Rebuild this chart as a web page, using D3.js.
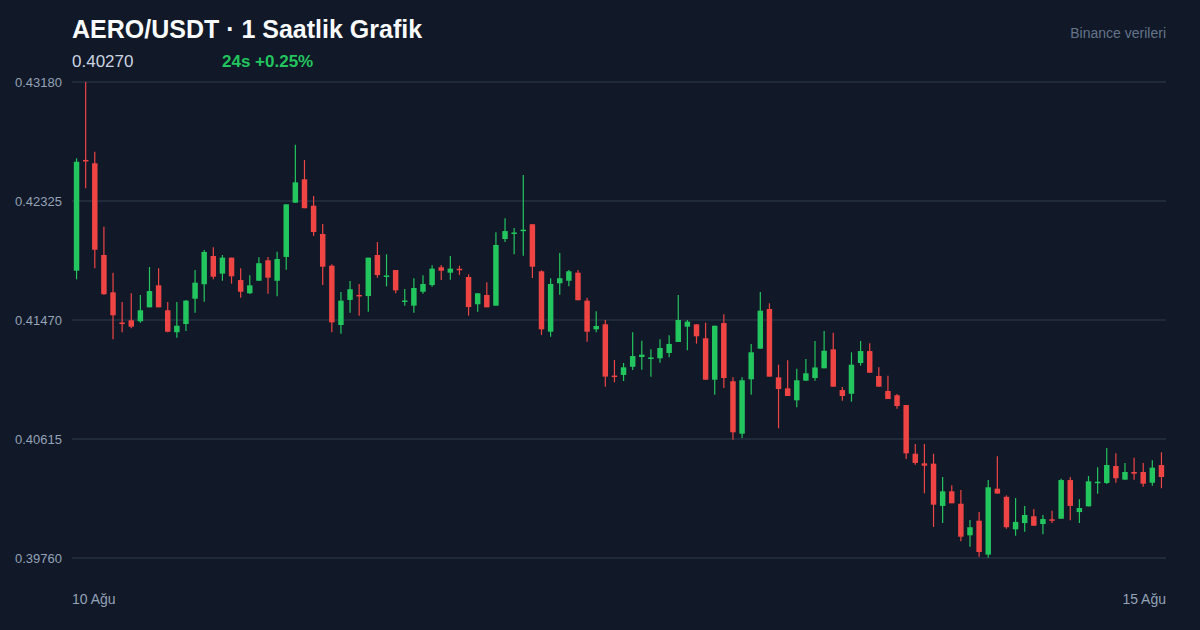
<!DOCTYPE html>
<html><head><meta charset="utf-8">
<script src="https://cdn.jsdelivr.net/npm/d3@7/dist/d3.min.js"></script>
<style>
html,body{margin:0;padding:0;background:#111827;}
svg{display:block;font-family:"Liberation Sans",Arial,Helvetica,sans-serif;}
</style></head>
<body>
<svg id="chart" width="1200" height="630"></svg>
<script>
const opens = [0.41824,0.42620,0.42596,0.41937,0.41669,0.41452,0.41468,0.41461,0.41561,0.41719,
0.41540,0.41382,0.41441,0.41623,0.41727,0.41930,0.41803,0.41918,0.41757,0.41662,
0.41752,0.41899,0.41752,0.41923,0.42313,0.42481,0.42291,0.42088,0.41860,0.41434,
0.41614,0.41650,0.41642,0.41937,0.41780,0.41829,0.41602,0.41573,0.41673,0.41721,
0.41849,0.41810,0.41838,0.41779,0.41583,0.41650,0.41573,0.42052,0.42092,0.42109,
0.42158,0.41820,0.41386,0.41734,0.41752,0.41810,0.41609,0.41403,0.41439,0.41071,
0.41075,0.41134,0.41204,0.41190,0.41195,0.41233,0.41312,0.41422,0.41439,0.41339,
0.41041,0.41448,0.41030,0.40653,0.41044,0.41264,0.41549,0.41058,0.40979,0.40893,
0.41034,0.41053,0.41123,0.41259,0.40967,0.40940,0.41161,0.41247,0.41068,0.40960,
0.40929,0.40859,0.40509,0.40440,0.40438,0.40134,0.40239,0.40150,0.39923,0.40028,
0.39784,0.40258,0.40200,0.39966,0.40011,0.40060,0.40004,0.40038,0.40042,0.40320,
0.40090,0.40131,0.40299,0.40299,0.40421,0.40323,0.40378,0.40378,0.40301,0.40428];
const highs = [0.42632,0.43180,0.42679,0.42140,0.41810,0.41599,0.41662,0.41650,0.41851,0.41841,
0.41599,0.41599,0.41614,0.41829,0.41973,0.41992,0.41937,0.41918,0.41841,0.41791,
0.41921,0.41923,0.41961,0.42301,0.42730,0.42620,0.42361,0.42160,0.41870,0.41671,
0.41750,0.41729,0.41918,0.42030,0.41942,0.41829,0.41693,0.41770,0.41791,0.41863,
0.41865,0.41930,0.41860,0.41798,0.41662,0.41741,0.42100,0.42201,0.42131,0.42512,
0.42158,0.41827,0.41770,0.41951,0.41829,0.41829,0.41630,0.41533,0.41470,0.41183,
0.41161,0.41382,0.41321,0.41259,0.41331,0.41360,0.41650,0.41470,0.41439,0.41451,
0.41429,0.41511,0.41058,0.41058,0.41298,0.41671,0.41590,0.41149,0.41180,0.41120,
0.41190,0.41319,0.41391,0.41379,0.40989,0.41238,0.41319,0.41303,0.41130,0.41070,
0.40938,0.40859,0.40579,0.40579,0.40509,0.40342,0.40282,0.40249,0.40033,0.40090,
0.40320,0.40491,0.40210,0.40191,0.40134,0.40112,0.40069,0.40100,0.40330,0.40342,
0.40182,0.40349,0.40412,0.40550,0.40512,0.40443,0.40481,0.40443,0.40462,0.40519];
const lows = [0.41762,0.42416,0.41841,0.41652,0.41331,0.41382,0.41410,0.41451,0.41561,0.41561,
0.41382,0.41343,0.41391,0.41522,0.41602,0.41762,0.41752,0.41731,0.41630,0.41657,
0.41752,0.41659,0.41640,0.41831,0.42313,0.42273,0.42074,0.41721,0.41382,0.41372,
0.41522,0.41501,0.41530,0.41774,0.41712,0.41662,0.41573,0.41522,0.41659,0.41709,
0.41757,0.41760,0.41793,0.41501,0.41530,0.41561,0.41573,0.42030,0.41942,0.41932,
0.41772,0.41362,0.41350,0.41652,0.41712,0.41612,0.41314,0.41382,0.40991,0.41022,
0.41032,0.41111,0.41113,0.41063,0.41163,0.41202,0.41312,0.41252,0.41300,0.41041,
0.40933,0.40981,0.40610,0.40622,0.40933,0.41264,0.41063,0.40692,0.40924,0.40843,
0.41034,0.41034,0.41123,0.40991,0.40890,0.40883,0.41142,0.41091,0.40991,0.40902,
0.40833,0.40471,0.40430,0.40225,0.39983,0.40011,0.40153,0.39880,0.39841,0.39769,
0.39762,0.40223,0.39970,0.39920,0.39949,0.39992,0.39930,0.40011,0.40042,0.40031,
0.40011,0.40131,0.40222,0.40292,0.40301,0.40323,0.40323,0.40272,0.40279,0.40261];
const closes = [0.42607,0.42609,0.41975,0.41655,0.41504,0.41441,0.41422,0.41540,0.41678,0.41561,
0.41386,0.41429,0.41609,0.41738,0.41959,0.41781,0.41918,0.41784,0.41673,0.41719,
0.41878,0.41774,0.41908,0.42301,0.42459,0.42273,0.42102,0.41853,0.41453,0.41609,
0.41691,0.41640,0.41918,0.41793,0.41790,0.41683,0.41610,0.41700,0.41729,0.41839,
0.41824,0.41839,0.41829,0.41563,0.41662,0.41561,0.42009,0.42109,0.42099,0.42119,
0.41853,0.41403,0.41729,0.41770,0.41820,0.41612,0.41386,0.41427,0.41063,0.41060,
0.41130,0.41211,0.41221,0.41201,0.41269,0.41298,0.41470,0.41458,0.41353,0.41041,
0.41429,0.41053,0.40663,0.41037,0.41238,0.41537,0.41063,0.40974,0.40924,0.41037,
0.41087,0.41129,0.41249,0.40991,0.40924,0.41149,0.41247,0.41091,0.40991,0.40902,
0.40852,0.40512,0.40443,0.40423,0.40143,0.40239,0.40153,0.39913,0.39981,0.39803,
0.40268,0.40223,0.39981,0.40019,0.40069,0.39992,0.40040,0.40028,0.40320,0.40134,
0.40119,0.40311,0.40308,0.40428,0.40333,0.40378,0.40366,0.40294,0.40409,0.40342];
const yTicks = [0.43180, 0.42325, 0.41470, 0.40615, 0.39760];
const xLabels = ["10 Ağu", "15 Ağu"];
const titleText = "AERO/USDT · 1 Saatlik Grafik";
const priceText = "0.40270";
const changeText = "24s +0.25%";
const sourceText = "Binance verileri";

(function () {
const W = 1200, H = 630;
const mLeft = 72, mRight = 1166, mTop = 82, mBottom = 558;
const svg = d3.select("#chart");
svg.append("rect").attr("width", W).attr("height", H).attr("fill", "#111827");

const candles = opens.map((o, i) => ({i, o, h: highs[i], l: lows[i], c: closes[i]}));
const x = d3.scaleBand().domain(candles.map(d => d.i)).range([mLeft, mRight]).paddingInner(0.4).paddingOuter(0.2);
const y = d3.scaleLinear().domain([0.39760, 0.43180]).range([mBottom, mTop]);

// grid
svg.append("g").selectAll("line").data(yTicks).join("line")
  .attr("x1", mLeft).attr("x2", mRight)
  .attr("y1", d => Math.round(y(d))).attr("y2", d => Math.round(y(d)))
  .attr("stroke", "#1f2a3a").attr("stroke-width", 2);

// y labels
const yAxis = d3.axisLeft(y).tickValues(yTicks).tickFormat(d3.format(".5f")).tickSize(0).tickPadding(10);
const gy = svg.append("g").attr("transform", `translate(${mLeft},0)`).call(yAxis);
gy.select(".domain").remove();
gy.selectAll("text").attr("fill", "#94a3b8").attr("font-size", 13).attr("font-family", "Liberation Sans, Arial, sans-serif");

// candles
const up = "#22c55e", down = "#ef4444";
const cg = svg.append("g").selectAll("g").data(candles).join("g");
cg.append("line")
  .attr("x1", d => x(d.i) + x.bandwidth()/2).attr("x2", d => x(d.i) + x.bandwidth()/2)
  .attr("y1", d => y(d.h)).attr("y2", d => y(d.l))
  .attr("stroke", d => d.c >= d.o ? up : down).attr("stroke-width", 1.2);
cg.append("rect")
  .attr("x", d => x(d.i)).attr("width", x.bandwidth())
  .attr("y", d => y(Math.max(d.o, d.c)))
  .attr("height", d => Math.max(1.5, Math.abs(y(d.o) - y(d.c))))
  .attr("fill", d => d.c >= d.o ? up : down);

// x labels
svg.append("text").attr("x", mLeft).attr("y", 604).attr("fill", "#94a3b8").attr("font-size", 14).text(xLabels[0]);
svg.append("text").attr("x", mRight).attr("y", 604).attr("text-anchor", "end").attr("fill", "#94a3b8").attr("font-size", 14).text(xLabels[1]);

// header
svg.append("text").attr("x", 72).attr("y", 38).attr("fill", "#f8fafc").attr("font-size", 25).attr("font-weight", "bold").text(titleText);
svg.append("text").attr("x", 72).attr("y", 67).attr("fill", "#cbd5e1").attr("font-size", 17).text(priceText);
svg.append("text").attr("x", 222).attr("y", 67).attr("fill", up).attr("font-size", 17).attr("font-weight", "bold").text(changeText);
svg.append("text").attr("x", mRight).attr("y", 38).attr("text-anchor", "end").attr("fill", "#64748b").attr("font-size", 14).text(sourceText);
})();
</script>
</body></html>
